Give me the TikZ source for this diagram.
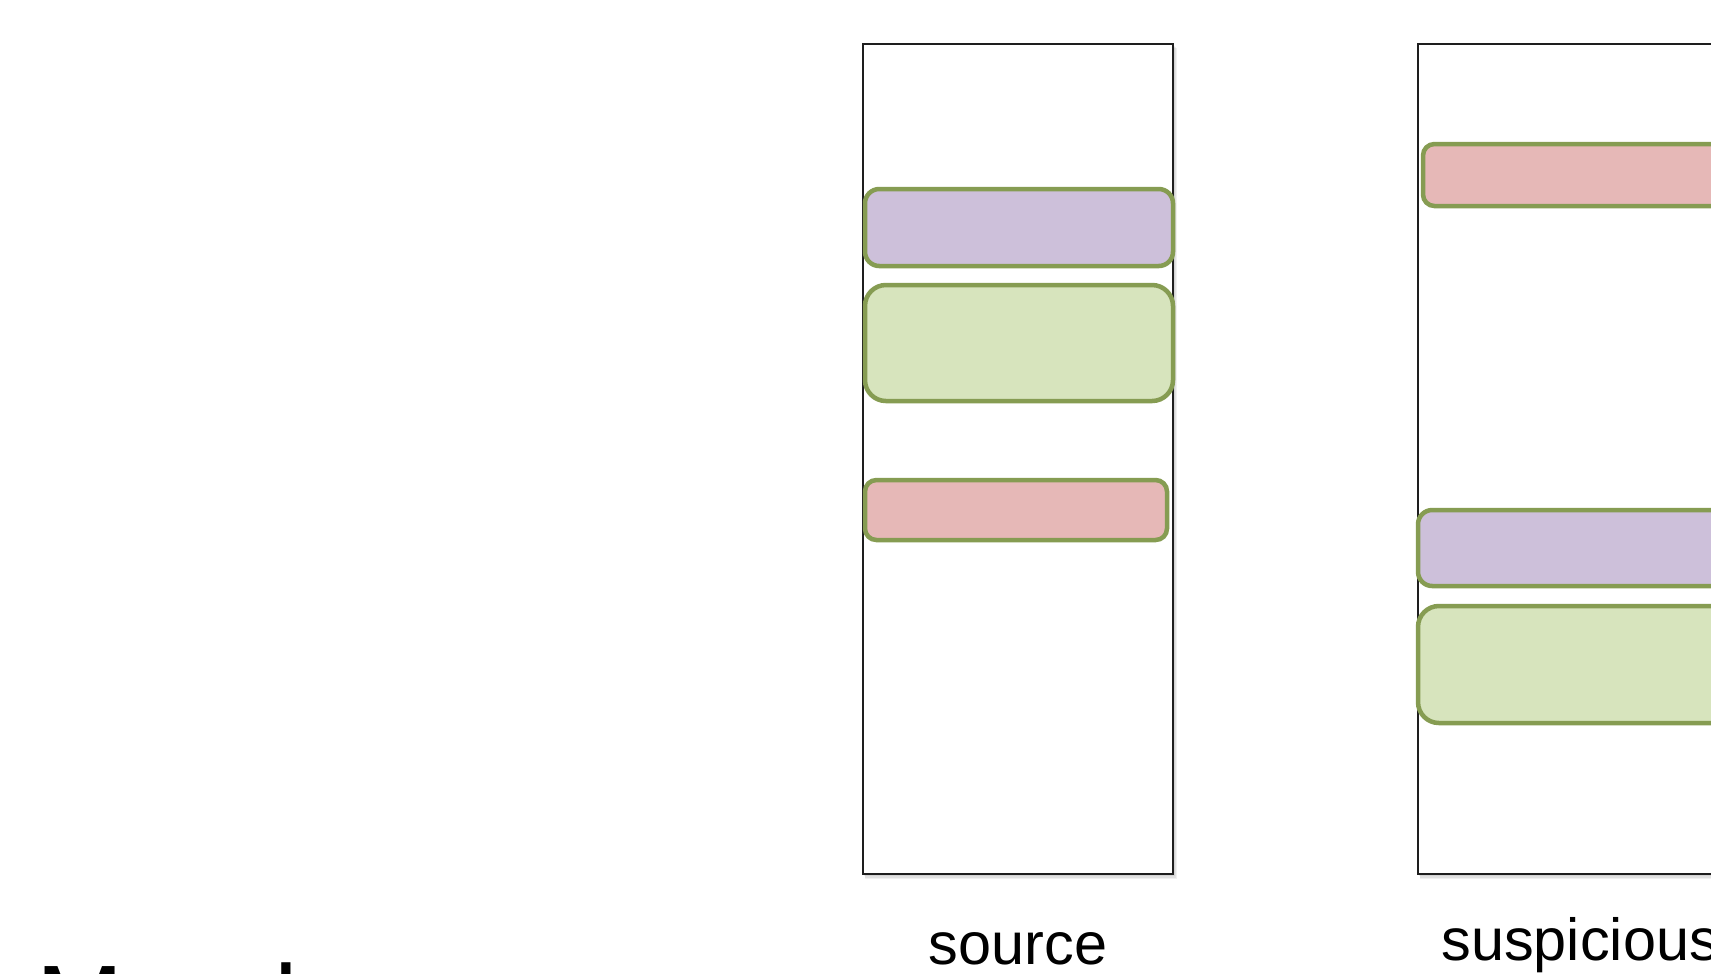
\documentclass[tikz,border=0pt]{standalone}
\usepackage{fontspec}
\setmainfont{Liberation Sans}
\usetikzlibrary{calc}
\definecolor{boxpurple}{RGB}{205,192,218}
\definecolor{boxgreen}{RGB}{215,228,189}
\definecolor{boxred}{RGB}{230,184,183}
\definecolor{boxedge}{RGB}{134,156,82}
\definecolor{frameline}{RGB}{30,30,30}
\tikzset{
  column/.style={draw=frameline, line width=0.65pt, fill=white},
  colshadow/.style={fill=black, fill opacity=0.06, draw=none},
  seg/.style={draw=boxedge, line width=1.9pt},
  label/.style={font=\fontsize{25}{29}\selectfont, inner sep=0pt},
  titletext/.style={font=\fontsize{44}{52}\selectfont, inner sep=0pt, anchor=base west}
}
\begin{document}
\begin{tikzpicture}[x=0.42081pt, y=-0.42081pt]
\useasboundingbox (0,0) rectangle (1711,973);
\clip (0,0) rectangle (1711,973);
\fill[white] (0,0) rectangle (1711,973);

% coordinates of the two columns
\coordinate (srcTL) at (863,44);
\coordinate (srcBR) at (1173,874);
\coordinate (susTL) at (1418,44);
\coordinate (susBR) at (1760,874);

% soft shadows
\foreach \d in {1,2,3,4} {
  \fill[colshadow] ($(srcTL)+(\d*0.6,\d*0.9)$) rectangle ($(srcBR)+(\d*0.9,\d*1.2)$);
  \fill[colshadow] ($(susTL)+(\d*0.6,\d*0.9)$) rectangle ($(susBR)+(\d*0.9,\d*1.2)$);
}

% columns
\draw[column] (srcTL) rectangle (srcBR);
\draw[column] (susTL) rectangle (susBR);

% source segments
\draw[seg, fill=boxpurple, rounded corners=6pt] (865,189) rectangle (1173,266);
\draw[seg, fill=boxgreen,  rounded corners=8.8pt] (865,285) rectangle (1173,401);
\draw[seg, fill=boxred,    rounded corners=4.8pt] (865,480) rectangle (1167,540);

% suspicious segments
\draw[seg, fill=boxred,    rounded corners=4.8pt] (1423,144) rectangle (1790,206);
\draw[seg, fill=boxpurple, rounded corners=6pt] (1418,510) rectangle (1790,586);
\draw[seg, fill=boxgreen,  rounded corners=8.8pt] (1418,606) rectangle (1790,723);

% labels
\node[label, anchor=base] (srclabel) at (1018,964) {source};
\node[label, anchor=base west] (suslabel) at (1441,960) {suspicious};

% title (cut off by the bottom edge)
\node[titletext] (title) at (36,1038) {Morph};
\end{tikzpicture}
\end{document}
